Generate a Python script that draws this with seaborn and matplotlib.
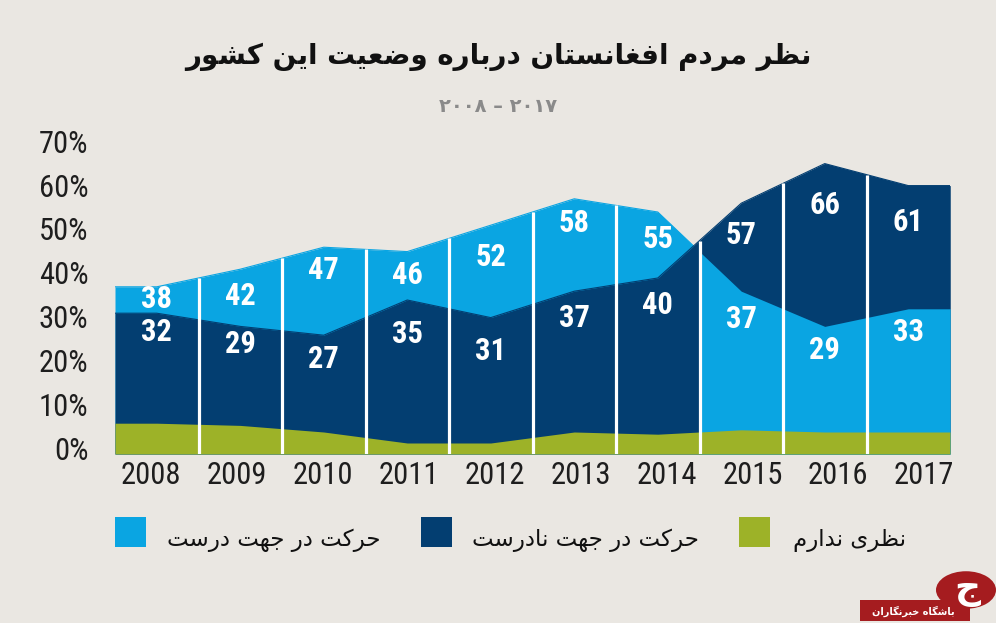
import numpy as np
import matplotlib
matplotlib.use("Agg")
import matplotlib.pyplot as plt
import seaborn as sns
from matplotlib.patches import Rectangle, Circle
from matplotlib.transforms import ScaledTranslation
from matplotlib import font_manager as fm

# ---------------- data ----------------
years = [2008, 2009, 2010, 2011, 2012, 2013, 2014, 2015, 2016, 2017]
right_direction = [38, 42, 47, 46, 52, 58, 55, 37, 29, 33]
wrong_direction = [32, 29, 27, 35, 31, 37, 40, 57, 66, 61]
no_opinion = [7, 6.5, 5, 2.5, 2.5, 5, 4.5, 5.5, 5, 5]
y_ticks = [0, 10, 20, 30, 40, 50, 60, 70]
y_tick_labels = ["0%", "10%", "20%", "30%", "40%", "50%", "60%", "70%"]

title_fa = "نظر مردم افغانستان درباره وضعیت این کشور"
subtitle_fa = "۲۰۰۸ – ۲۰۱۷"
legend_labels = ["حرکت در جهت درست", "حرکت در جهت نادرست", "نظری ندارم"]
watermark_fa = "باشگاه خبرنگاران"

# label offsets (pixels below the top of each series)
off_right = [12, 27, 23, 23, 32, 24, 27, 28, 24, 23]
off_wrong = [19, 18, 24, 34, 33, 27, 27, 32, 41, 36]

colors = ["#0AA5E2", "#033E71", "#9DB228"]
bg = "#EAE7E2"

# ---------------- minimal Persian shaping ----------------
FORMS = {
    'ا': ('\uFE8D', '\uFE8E', None, None),
    'آ': ('\uFE81', '\uFE82', None, None),
    'ب': ('\uFE8F', '\uFE90', '\uFE91', '\uFE92'),
    'پ': ('\uFB56', '\uFB57', '\uFB58', '\uFB59'),
    'ت': ('\uFE95', '\uFE96', '\uFE97', '\uFE98'),
    'ج': ('\uFE9D', '\uFE9E', '\uFE9F', '\uFEA0'),
    'ح': ('\uFEA1', '\uFEA2', '\uFEA3', '\uFEA4'),
    'خ': ('\uFEA5', '\uFEA6', '\uFEA7', '\uFEA8'),
    'د': ('\uFEA9', '\uFEAA', None, None),
    'ر': ('\uFEAD', '\uFEAE', None, None),
    'ز': ('\uFEAF', '\uFEB0', None, None),
    'س': ('\uFEB1', '\uFEB2', '\uFEB3', '\uFEB4'),
    'ش': ('\uFEB5', '\uFEB6', '\uFEB7', '\uFEB8'),
    'ض': ('\uFEBD', '\uFEBE', '\uFEBF', '\uFEC0'),
    'ظ': ('\uFEC5', '\uFEC6', '\uFEC7', '\uFEC8'),
    'ع': ('\uFEC9', '\uFECA', '\uFECB', '\uFECC'),
    'غ': ('\uFECD', '\uFECE', '\uFECF', '\uFED0'),
    'ف': ('\uFED1', '\uFED2', '\uFED3', '\uFED4'),
    'ک': ('\uFB8E', '\uFB8F', '\uFB90', '\uFB91'),
    'گ': ('\uFB92', '\uFB93', '\uFB94', '\uFB95'),
    'م': ('\uFEE1', '\uFEE2', '\uFEE3', '\uFEE4'),
    'ن': ('\uFEE5', '\uFEE6', '\uFEE7', '\uFEE8'),
    'و': ('\uFEED', '\uFEEE', None, None),
    'ه': ('\uFEE9', '\uFEEA', '\uFEEB', '\uFEEC'),
    'ی': ('\uFBFC', '\uFBFD', '\uFBFE', '\uFBFF'),
}


def shape(text):
    out = []
    n = len(text)
    for i, ch in enumerate(text):
        if ch not in FORMS:
            out.append(ch)
            continue
        prev = text[i - 1] if i > 0 else None
        nxt = text[i + 1] if i < n - 1 else None
        joins_prev = prev in FORMS and FORMS[prev][2] is not None
        joins_next = FORMS[ch][2] is not None and nxt in FORMS
        iso, fin, ini, med = FORMS[ch]
        if joins_prev and joins_next:
            out.append(med)
        elif joins_prev:
            out.append(fin)
        elif joins_next:
            out.append(ini)
        else:
            out.append(iso)
    return "".join(out)[::-1]


# ---------------- figure ----------------
sns.set_theme(style="white", rc={"figure.facecolor": bg, "axes.facecolor": bg})

available = {f.name for f in fm.fontManager.ttflist}
narrow_pref = ["Liberation Sans Narrow", "Roboto Condensed", "DejaVu Sans Condensed",
               "Open Sans Condensed", "Liberation Sans"]
NARROW_NAME = next(n for n in narrow_pref if n in available)
NARROW = [NARROW_NAME, "DejaVu Sans"]
is_condensed = NARROW_NAME != "Liberation Sans"
num_fs = 22 if is_condensed else 19
FA = ["DejaVu Sans"]

W, H = 996, 623
fig = plt.figure(figsize=(W / 100, H / 100), dpi=100)
fig.patch.set_facecolor(bg)
ax = fig.add_axes([115 / W, 1 - 454 / H, 835 / W, 308 / H])
ax.set_facecolor(bg)

idx = np.arange(len(years))
xs = np.r_[-0.5, idx, len(years) - 0.5]


def pad(a):
    a = np.asarray(a, float)
    return np.r_[a[0], a, a[-1]]


light = pad(right_direction)
dark = pad(wrong_direction)
green = pad(no_opinion)

ax.fill_between(xs, 0, light, color=colors[0], lw=0, zorder=1)
sns.lineplot(x=xs, y=light, color=colors[0], lw=0.8, ax=ax, zorder=1.5)
ax.fill_between(xs, 0, dark, color=colors[1], lw=0, zorder=2)
band = ax.fill_between(xs, light, dark, where=dark > light, interpolate=True,
                       color=colors[1], lw=0, zorder=2)
sns.lineplot(x=xs, y=dark, color=colors[1], lw=0.8, ax=ax, zorder=2.5)
# where the "right direction" share is the smaller one it is drawn in front,
# starting at the year column boundary following the crossing
x_cross = band.get_paths()[0].vertices[:, 0].min()
x_start = np.floor(x_cross) + 0.5
front = ax.fill_between(xs, 0, light, color=colors[0], lw=0, zorder=3)
clip = Rectangle((x_start, -1), xs[-1] - x_start + 1, 200, transform=ax.transData)
front.set_clip_path(clip)
ax.fill_between(xs, 0, green, color=colors[2], lw=0, zorder=4)

bounds = np.arange(0.5, len(years) - 1, 1.0)
tops = np.maximum(np.interp(bounds, xs, light), np.interp(bounds, xs, dark))
ax.vlines(bounds, 0, tops, colors="white", lw=2.3, zorder=5)

for i in idx:
    ax.annotate(str(right_direction[i]), xy=(i, right_direction[i]),
                xytext=(0, -off_right[i]), textcoords="offset pixels",
                ha="center", va="center", color="white", fontsize=num_fs,
                fontweight="bold", family=NARROW, zorder=6)
    ax.annotate(str(wrong_direction[i]), xy=(i, wrong_direction[i]),
                xytext=(0, -off_wrong[i]), textcoords="offset pixels",
                ha="center", va="center", color="white", fontsize=num_fs,
                fontweight="bold", family=NARROW, zorder=6)

ax.set_xlim(-0.5, len(years) - 0.5)
ax.set_ylim(0, 70)
for s in ax.spines.values():
    s.set_visible(False)

ax.set_yticks(y_ticks)
ax.set_yticklabels(y_tick_labels, family=NARROW, fontsize=num_fs, color="#1E1E1E")
tick_pos = idx * 1.029 - 0.07
ax.set_xticks(tick_pos)
ax.set_xticklabels([str(y) for y in years], family=NARROW, fontsize=num_fs,
                   color="#1E1E1E")
ax.tick_params(axis="y", length=0, pad=19)
ax.tick_params(axis="x", length=0, pad=5)
for lab in ax.get_yticklabels():
    lab.set_transform(lab.get_transform() + ScaledTranslation(0, 5 / 100, fig.dpi_scale_trans))

# ---------------- titles ----------------
fig.text(0.5, 1 - 57 / H, shape(title_fa), ha="center", va="center",
         fontsize=20, fontweight="bold", family=FA, color="#111111")
fig.text(0.5, 1 - 106 / H, subtitle_fa, ha="center", va="center",
         fontsize=14, fontweight="bold", family=FA, color="#8A8A8A")

# ---------------- legend ----------------
sq_x = [115, 421, 739]
txt_x = [167, 472, 793]
for c, sx, tx, lab in zip(colors, sq_x, txt_x, legend_labels):
    fig.patches.append(Rectangle((sx / W, 1 - 547 / H), 31 / W, 30 / H,
                                 transform=fig.transFigure, color=c, lw=0))
    fig.text(tx / W, 1 - 540 / H, shape(lab), ha="left", va="center",
             fontsize=16.5, family=FA, color="#111111")

# ---------------- watermark ----------------
fig.patches.append(Rectangle((860 / W, 1 - 621 / H), 110 / W, 21 / H,
                             transform=fig.transFigure, color="#A51C1F", lw=0))
fig.patches.append(Circle((966 / W, 1 - 590 / H), 30 / W,
                          transform=fig.transFigure, color="#A51C1F", lw=0))
fig.text(913 / W, 1 - 611 / H, shape(watermark_fa), ha="center", va="center",
         fontsize=7, fontweight="bold", family=FA, color="white")
fig.text(967 / W, 1 - 590 / H, shape("ج"), ha="center", va="center",
         fontsize=26, fontweight="bold", family=FA, color="white")

fig.savefig("out.png", dpi=100, facecolor=bg)
